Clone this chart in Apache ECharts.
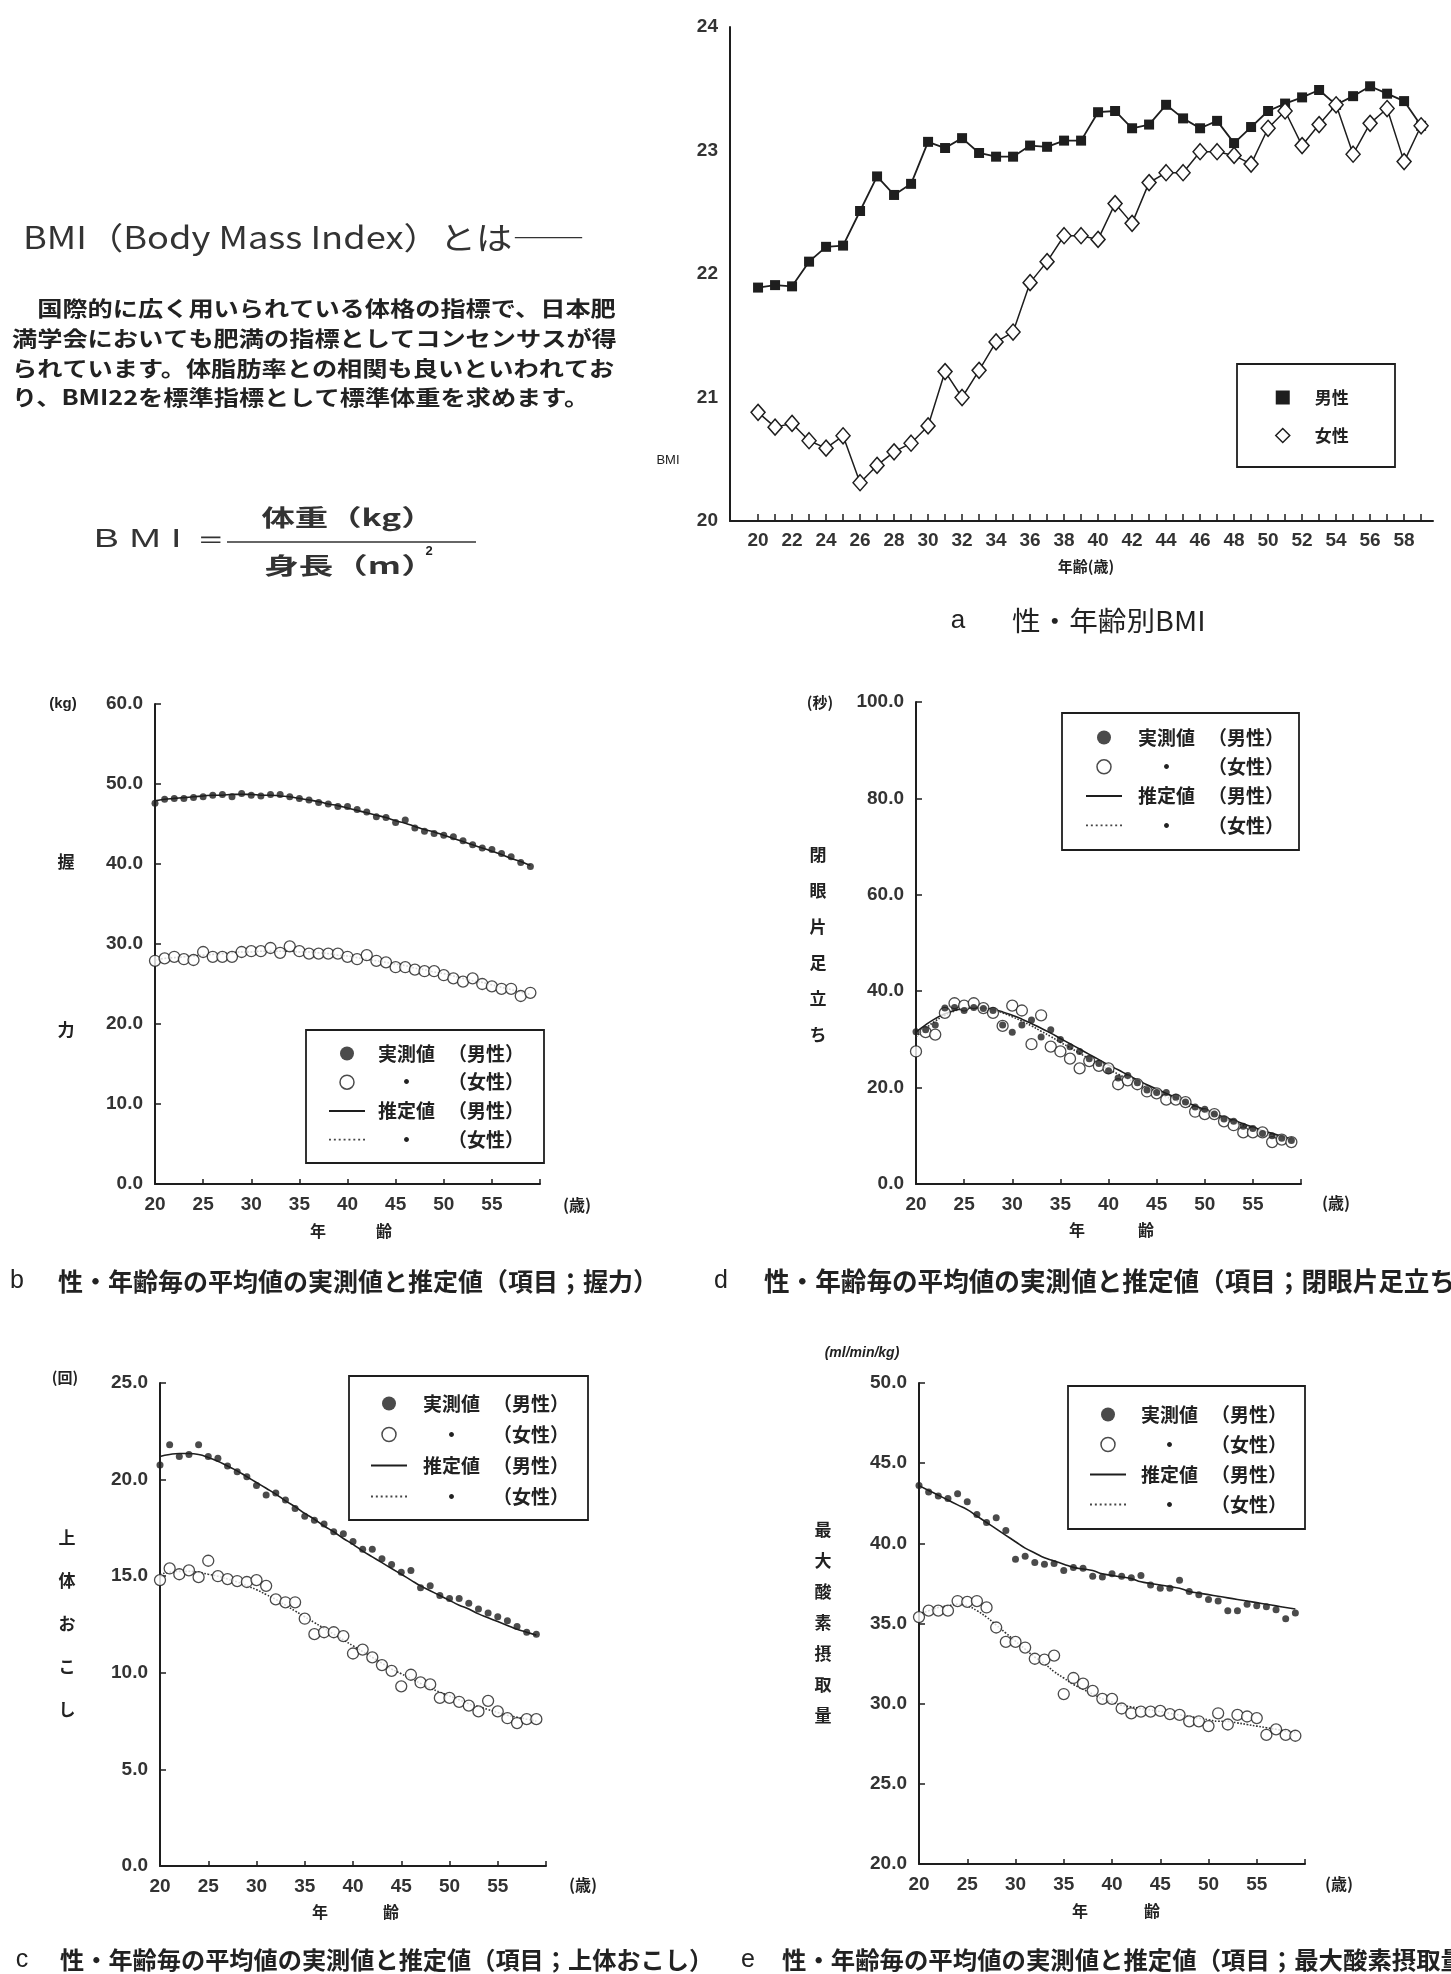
<!DOCTYPE html>
<html>
<head>
<meta charset="utf-8">
<script src="https://cdn.jsdelivr.net/npm/echarts/dist/echarts.min.js"></script>
<style>
html,body{margin:0;padding:0;background:#fff;}
#chart{width:1451px;height:1974px;}
</style>
</head>
<body>
<div id="chart"></div>
<script>
// ---------------- DATA ----------------
const ages = [20,21,22,23,24,25,26,27,28,29,30,31,32,33,34,35,36,37,38,39,40,41,42,43,44,45,46,47,48,49,50,51,52,53,54,55,56,57,58,59];
const bmiAgeTicks = [20,21,22,23,24,25,26,27,28,29,30,31,32,33,34,35,36,37,38,39,40,41,42,43,44,45,46,47,48,49,50,51,52,53,54,55,56,57,58,59];
const bmiAgeLabels = [20,22,24,26,28,30,32,34,36,38,40,42,44,46,48,50,52,54,56,58];

// a: BMI by sex and age
const bmiMale   = [21.89,21.91,21.90,22.10,22.22,22.23,22.51,22.79,22.64,22.73,23.07,23.02,23.10,22.98,22.95,22.95,23.04,23.03,23.08,23.08,23.31,23.32,23.18,23.21,23.37,23.26,23.18,23.24,23.06,23.19,23.32,23.38,23.43,23.49,23.37,23.44,23.52,23.46,23.40,23.20];
const bmiFemale = [20.88,20.76,20.79,20.65,20.59,20.69,20.31,20.45,20.56,20.63,20.77,21.21,21.00,21.22,21.45,21.53,21.93,22.10,22.31,22.31,22.28,22.57,22.41,22.74,22.82,22.82,22.99,22.99,22.96,22.89,23.18,23.32,23.04,23.21,23.37,22.97,23.22,23.34,22.91,23.20];

// b: grip strength (kg)
const gripMale      = [47.6,48.1,48.2,48.2,48.3,48.4,48.6,48.7,48.4,48.8,48.6,48.5,48.7,48.7,48.4,48.2,48.0,47.7,47.5,47.2,47.2,46.8,46.5,45.9,45.8,45.2,45.5,44.5,44.1,43.8,43.6,43.4,42.9,42.4,42.0,41.8,41.3,40.9,40.2,39.7];
const gripFemale    = [27.9,28.2,28.4,28.1,28.0,29.0,28.4,28.4,28.4,29.0,29.1,29.1,29.5,28.9,29.7,29.1,28.8,28.8,28.8,28.8,28.4,28.1,28.6,27.9,27.7,27.1,27.1,26.8,26.6,26.6,26.1,25.7,25.3,25.7,25.0,24.7,24.4,24.4,23.5,23.9];
const gripMaleEst   = [47.9,48.1,48.2,48.3,48.4,48.5,48.6,48.6,48.7,48.7,48.7,48.6,48.6,48.5,48.4,48.2,48.0,47.8,47.5,47.3,47.0,46.7,46.4,46.1,45.8,45.4,45.1,44.7,44.3,44.0,43.6,43.2,42.8,42.4,42.0,41.6,41.2,40.7,40.3,39.8];
const gripFemaleEst = [28.0,28.2,28.3,28.4,28.5,28.6,28.7,28.8,28.9,29.0,29.0,29.1,29.1,29.1,29.1,29.0,29.0,28.9,28.8,28.6,28.5,28.3,28.1,27.9,27.7,27.5,27.3,27.0,26.8,26.5,26.3,26.0,25.7,25.4,25.2,24.9,24.6,24.3,24.0,23.7];

// d: one-leg standing with eyes closed (sec)
const balMale      = [31.6,32.0,33.0,36.5,36.6,36.0,36.6,36.4,36.0,33.0,31.5,33.0,34.0,30.5,32.0,30.0,28.5,27.5,26.0,25.0,23.5,22.0,22.5,21.0,19.5,19.0,19.0,18.0,17.0,16.0,15.5,14.5,13.5,13.0,12.0,11.5,10.5,10.0,9.5,9.0];
const balFemale    = [27.5,31.5,31.0,35.5,37.5,37.0,37.5,36.5,35.5,32.8,37.0,36.0,29.0,35.0,28.5,27.5,26.0,24.0,25.5,24.5,24.0,20.7,21.5,20.7,19.2,18.8,17.5,17.5,17.0,15.0,14.5,14.5,13.0,12.2,10.7,10.7,10.7,8.7,9.2,8.7];
const balMaleEst   = [31.5,33.0,34.3,35.3,36.0,36.4,36.6,36.5,36.2,35.7,35.0,34.2,33.3,32.3,31.3,30.2,29.1,28.0,26.9,25.8,24.7,23.7,22.6,21.6,20.6,19.7,18.8,17.9,17.0,16.2,15.4,14.6,13.9,13.2,12.5,11.8,11.1,10.5,9.9,9.3];
const balFemaleEst = [30.5,32.3,33.8,35.0,35.9,36.4,36.6,36.5,36.1,35.5,34.7,33.8,32.8,31.7,30.6,29.4,28.3,27.1,26.0,24.9,23.8,22.8,21.8,20.8,19.9,19.0,18.1,17.3,16.5,15.7,15.0,14.2,13.5,12.8,12.2,11.5,10.9,10.3,9.7,9.1];

// c: sit-ups (times)
const situpMale      = [20.75,21.8,21.2,21.3,21.8,21.2,21.1,20.7,20.4,20.15,19.7,19.2,19.3,18.95,18.5,18.1,17.9,17.7,17.3,17.2,16.8,16.4,16.4,15.9,15.6,15.2,15.3,14.4,14.5,14.0,13.85,13.85,13.6,13.3,13.1,12.9,12.7,12.4,12.1,12.0];
const situpFemale    = [14.8,15.4,15.1,15.3,14.95,15.8,15.0,14.85,14.75,14.7,14.8,14.5,13.8,13.65,13.65,12.8,12.0,12.1,12.1,11.9,11.0,11.2,10.8,10.4,10.1,9.3,9.9,9.5,9.4,8.7,8.7,8.5,8.3,8.0,8.55,8.0,7.65,7.4,7.6,7.6];
const situpMaleEst   = [21.2,21.3,21.35,21.35,21.3,21.15,20.95,20.7,20.45,20.15,19.85,19.55,19.25,18.9,18.6,18.25,17.95,17.6,17.3,16.95,16.65,16.3,16.0,15.7,15.4,15.1,14.8,14.5,14.25,14.0,13.75,13.5,13.3,13.05,12.85,12.65,12.45,12.25,12.1,11.95];
const situpFemaleEst = [15.1,15.2,15.25,15.25,15.2,15.1,15.0,14.85,14.7,14.5,14.3,14.05,13.8,13.5,13.2,12.9,12.6,12.3,12.0,11.7,11.4,11.1,10.8,10.5,10.2,9.95,9.7,9.45,9.2,9.0,8.8,8.6,8.4,8.25,8.1,7.95,7.8,7.7,7.6,7.5];

// e: maximal oxygen uptake (ml/min/kg)
const vo2Male      = [43.6,43.2,42.95,42.8,43.1,42.6,41.8,41.3,41.6,40.8,39.0,39.2,38.8,38.7,38.75,38.3,38.5,38.45,37.95,37.9,38.1,37.95,37.85,38.0,37.4,37.2,37.2,37.7,37.0,36.8,36.5,36.4,35.8,35.8,36.2,36.1,36.05,35.85,35.3,35.65];
const vo2Female    = [35.4,35.8,35.8,35.8,36.4,36.35,36.4,36.0,34.75,33.85,33.85,33.5,32.8,32.75,33.0,30.6,31.6,31.25,30.8,30.3,30.3,29.7,29.4,29.5,29.5,29.55,29.35,29.3,28.9,28.9,28.6,29.4,28.7,29.3,29.2,29.1,28.05,28.4,28.05,28.0];
const vo2MaleEst   = [43.6,43.3,43.0,42.7,42.4,42.1,41.7,41.3,40.9,40.5,40.1,39.7,39.4,39.1,38.9,38.7,38.5,38.4,38.3,38.1,38.0,37.9,37.8,37.6,37.5,37.4,37.3,37.2,37.0,36.9,36.8,36.7,36.6,36.5,36.4,36.3,36.2,36.1,36.0,35.9];
const vo2FemaleEst = [35.6,35.8,36.0,36.1,36.2,36.1,35.8,35.4,34.9,34.4,33.9,33.4,32.9,32.5,32.0,31.6,31.2,30.9,30.6,30.3,30.1,29.9,29.8,29.7,29.6,29.5,29.4,29.3,29.2,29.1,29.0,28.9,28.9,28.8,28.7,28.6,28.5,28.4,28.3,28.2];

// ---------------- STYLE ----------------
const CJK = '"Noto Sans CJK JP", "Noto Sans", sans-serif';
const NUM = '"Liberation Sans", "DejaVu Sans", sans-serif';
const INK = '#1e1e1e';
const NAMES = ['実測値（男性）','実測値（女性）','推定値（男性）','推定値（女性）'];
const LEGEND_TEXT = {
  '実測値（男性）':'{a|実測値}{b|（男性）}',
  '実測値（女性）':'{a|　・}{b|（女性）}',
  '推定値（男性）':'{a|推定値}{b|（男性）}',
  '推定値（女性）':'{a|　・}{b|（女性）}'
};
const SOLID_ICON = 'path://M0,0H36V2H0Z';
const DOT_ICON = 'path://M0,0h2v2h-2zM5,0h2v2h-2zM10,0h2v2h-2zM15,0h2v2h-2zM20,0h2v2h-2zM25,0h2v2h-2zM30,0h2v2h-2zM35,0h2v2h-2z';
const pairs = arr => ages.map((a,i)=>[a, arr[i]]);

const chart = echarts.init(document.getElementById('chart'), null, {renderer:'canvas'});

const grids = [
  {left:730, top:27, width:703, height:494},    // a
  {left:155, top:704, width:385, height:480},   // b
  {left:916, top:702, width:385, height:482},   // d
  {left:160, top:1383, width:386, height:483},  // c
  {left:919, top:1383, width:386, height:481}   // e
];

const tickLabel = {fontSize:19, fontWeight:'bold', color:'#333', fontFamily:NUM};

const xAxes = [
  {gridIndex:0, type:'value', min:18.35, max:59.7,
   axisLine:{lineStyle:{color:INK, width:2}},
   axisTick:{inside:true, length:7, customValues:bmiAgeTicks, lineStyle:{color:INK, width:1.5}},
   axisLabel:Object.assign({customValues:bmiAgeLabels, margin:10}, tickLabel),
   splitLine:{show:false}}
];
for (let g=1; g<=4; g++) {
  xAxes.push({gridIndex:g, type:'value', min:20, max:60, interval:5,
    axisLine:{lineStyle:{color:INK, width:2}},
    axisTick:{inside:true, length:5, lineStyle:{color:INK, width:1.5}},
    axisLabel:Object.assign({margin:11, formatter:v => v===60 ? '' : String(v)}, tickLabel),
    splitLine:{show:false}});
}
const yRanges = [[20,24,1,0],[0,60,10,1],[0,100,20,1],[0,25,5,1],[20,50,5,1]];
const yAxes = yRanges.map((r,g)=>({
  gridIndex:g, type:'value', min:r[0], max:r[1], interval:r[2],
  axisLine:{show:true, lineStyle:{color:INK, width:2}},
  axisTick:{show:g!==0, inside:true, length:6, lineStyle:{color:INK, width:1.5}},
  axisLabel:Object.assign({margin:12, formatter:v => v.toFixed(r[3])}, tickLabel),
  splitLine:{show:false}
}));

const series = [
  {name:'男性', type:'line', xAxisIndex:0, yAxisIndex:0, data:pairs(bmiMale),
   symbol:'rect', symbolSize:10, itemStyle:{color:INK}, lineStyle:{color:INK, width:1.8}, z:3},
  {name:'女性', type:'line', xAxisIndex:0, yAxisIndex:0, data:pairs(bmiFemale),
   symbol:'diamond', symbolSize:[14,16], itemStyle:{color:'#fff', borderColor:INK, borderWidth:1.5},
   lineStyle:{color:INK, width:1.5}, z:4}
];
const panels = [
  [1, gripMaleEst, gripFemaleEst, gripMale, gripFemale],
  [2, balMaleEst, balFemaleEst, balMale, balFemale],
  [3, situpMaleEst, situpFemaleEst, situpMale, situpFemale],
  [4, vo2MaleEst, vo2FemaleEst, vo2Male, vo2Female]
];
panels.forEach(p => {
  const g = p[0];
  series.push({name:NAMES[2], type:'line', xAxisIndex:g, yAxisIndex:g, data:pairs(p[1]),
    symbol:'none', smooth:true, itemStyle:{color:INK}, lineStyle:{color:INK, width:1.6}, z:2});
  series.push({name:NAMES[3], type:'line', xAxisIndex:g, yAxisIndex:g, data:pairs(p[2]),
    symbol:'none', smooth:true, itemStyle:{color:'#333'}, lineStyle:{color:'#333', width:1.6, type:'dotted'}, z:2});
  series.push({name:NAMES[0], type:'scatter', xAxisIndex:g, yAxisIndex:g, data:pairs(p[3]),
    symbol:'circle', symbolSize:7, itemStyle:{color:INK}, z:4});
  series.push({name:NAMES[1], type:'scatter', xAxisIndex:g, yAxisIndex:g, data:pairs(p[4]),
    symbol:'circle', symbolSize:11, itemStyle:{color:'#fff', borderColor:INK, borderWidth:1.3}, z:3});
});

const richBase = {fontSize:19, lineHeight:18, fontWeight:'bold', fontFamily:CJK, color:'#222'};
function panelLegend(left, top, gap, pad) {
  return {
    left:left, top:top, orient:'vertical', padding:0, itemWidth:36, itemHeight:14, itemGap:gap,
    selectedMode:false,
    data:[
      {name:NAMES[0], icon:'circle', itemStyle:{color:INK}},
      {name:NAMES[1], icon:'circle', itemStyle:{color:'#fff', borderColor:INK, borderWidth:1.5}},
      {name:NAMES[2], icon:SOLID_ICON, itemStyle:{color:INK, borderWidth:0}},
      {name:NAMES[3], icon:DOT_ICON, itemStyle:{color:'#444', borderWidth:0}}
    ],
    formatter:n => LEGEND_TEXT[n],
    textStyle:{fontSize:19, lineHeight:18, fontWeight:'bold', fontFamily:CJK, color:'#222', padding:[0,0,0,pad],
      rich:{a:Object.assign({width:70}, richBase), b:Object.assign({}, richBase)}}
  };
}
const legends = [
  {left:1275, top:389, orient:'vertical', padding:0, itemWidth:14, itemHeight:14, itemGap:21, selectedMode:false,
   data:[{name:'男性', icon:'rect', itemStyle:{color:INK}},
         {name:'女性', icon:'diamond', itemStyle:{color:'#fff', borderColor:INK, borderWidth:1.5}}],
   textStyle:{fontSize:17, lineHeight:17, fontWeight:'bold', fontFamily:CJK, color:'#222', padding:[0,0,0,20]}},
  panelLegend(329, 1044, 9.7, 8),
  panelLegend(1086, 728, 10.3, 11),
  panelLegend(371, 1394, 12, 11),
  panelLegend(1090, 1405, 11, 10)
];

// ---------------- TEXT / GRAPHICS ----------------
function T(x, y, text, size, opts) {
  opts = opts || {};
  return {type:'text', x:x, y:y, scaleX:opts.sx || 1, z:10,
    style:{text:text, fontSize:size, fontFamily:opts.family || CJK, fontWeight:opts.weight || 'bold',
      fontStyle:opts.style || 'normal', fill:opts.color || '#222',
      textAlign:opts.align || 'center', textVerticalAlign:'middle'}};
}
function box(x, y, w, h) {
  return {type:'rect', shape:{x:x, y:y, width:w, height:h}, z:1,
    style:{fill:'#fff', stroke:INK, lineWidth:1.8}};
}
const paragraph = [
  '　国際的に広く用いられている体格の指標で、日本肥',
  '満学会においても肥満の指標としてコンセンサスが得',
  'られています。体脂肪率との相関も良いといわれてお',
  'り、BMI22を標準指標として標準体重を求めます。'
];
const capText = '性・年齢毎の平均値の実測値と推定値';
const gfx = [
  box(1237, 364, 158, 103),
  box(306, 1030, 238, 133),
  box(1062, 713, 237, 137),
  box(349, 1376, 239, 144),
  box(1068, 1386, 237, 143),
  // intro
  T(23, 237, 'BMI（Body Mass Index）とは――', 31, {align:'left', weight:'normal', color:'#333', sx:1.17}),
  T(94, 540, 'B M I ＝', 25, {align:'left', weight:'normal', color:'#333', family:NUM, sx:1.5}),
  {type:'line', shape:{x1:227, y1:542, x2:476, y2:542}, style:{stroke:'#333', lineWidth:1.6}},
  {type:'group', x:348, y:517, scaleX:1.45, children:[T(0, 0, '体重（kg）', 23, {color:'#333'})]},
  {type:'group', x:350, y:565, scaleX:1.5, children:[T(0, 0, '身長（m）', 23, {color:'#333'})]},
  T(429, 551, '2', 13, {family:NUM}),
  // panel a
  T(668, 460, 'BMI', 13, {family:NUM, weight:'normal'}),
  T(1086, 566, '年齢(歳)', 15),
  T(958, 621, 'a', 26, {weight:'normal', family:NUM}),
  T(1012, 621, '性・年齢別BMI', 27, {align:'left', weight:'normal', sx:1.06}),
  // panel b
  T(63, 704, '(kg)', 15, {family:NUM}),
  T(66, 862, '握', 17), T(66, 1030, '力', 17),
  T(577, 1205, '(歳)', 16), T(318, 1231, '年', 16), T(384, 1231, '齢', 16),
  T(17, 1281, 'b', 25, {weight:'normal', family:NUM}),
  T(58, 1281, capText + '（項目；握力）', 25, {align:'left'}),
  // panel d
  T(820, 702, '(秒)', 15),
  T(1336, 1203, '(歳)', 16), T(1077, 1230, '年', 16), T(1146, 1230, '齢', 16),
  T(721, 1281, 'd', 25, {weight:'normal', family:NUM}),
  T(764, 1281, capText + '（項目；閉眼片足立ち）', 25.6, {align:'left'}),
  // panel c
  T(65, 1377, '(回)', 15),
  T(583, 1885, '(歳)', 16), T(320, 1912, '年', 16), T(391, 1912, '齢', 16),
  T(22, 1960, 'c', 25, {weight:'normal', family:NUM}),
  T(60, 1960, capText + '（項目；上体おこし）', 24.2, {align:'left'}),
  // panel e
  T(862, 1353, '(ml/min/kg)', 14, {family:NUM, style:'italic'}),
  T(1339, 1884, '(歳)', 16), T(1080, 1911, '年', 16), T(1152, 1911, '齢', 16),
  T(748, 1960, 'e', 25, {weight:'normal', family:NUM}),
  T(782, 1960, capText + '（項目；最大酸素摂取量）', 24.4, {align:'left'})
];
paragraph.forEach((line, i) => gfx.push(T(12, 308 + i*29.8, line, 21, {align:'left', sx:1.2, color:'#222'})));
'閉眼片足立ち'.split('').forEach((ch, i) => gfx.push(T(818, 855 + i*36, ch, 17)));
'上体おこし'.split('').forEach((ch, i) => gfx.push(T(67, 1538 + i*43, ch, 17)));
'最大酸素摂取量'.split('').forEach((ch, i) => gfx.push(T(823, 1530 + i*31, ch, 17)));

chart.setOption({
  backgroundColor:'#fff',
  animation:false,
  grid:grids,
  xAxis:xAxes,
  yAxis:yAxes,
  legend:legends,
  series:series,
  graphic:{elements:gfx}
});
</script>
</body>
</html>
